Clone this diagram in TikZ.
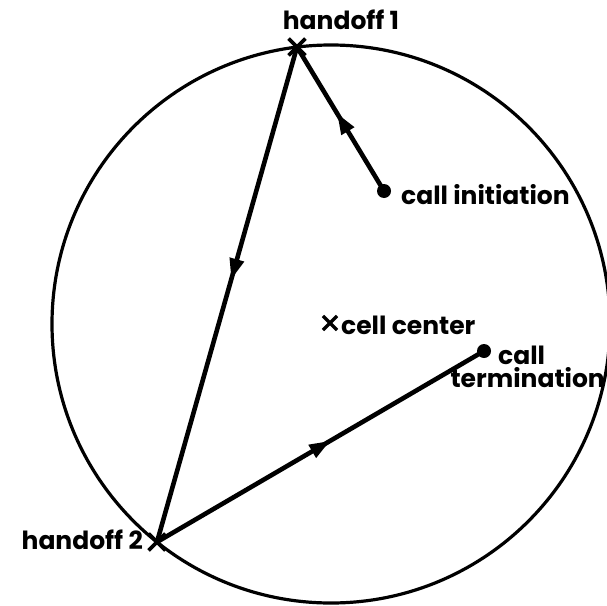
\documentclass[tikz,border=0pt]{standalone}
\usepackage{fontspec}
\setmainfont{Poppins}
\usetikzlibrary{shapes.misc,decorations.markings,arrows.meta}
\tikzset{
  rim/.style={line width=3.2pt},
  route/.style={line width=4.6pt},
  xmark/.style={cross out,draw,line width=3.8pt,minimum size=13pt,inner sep=0pt},
  spot/.style={circle,fill,minimum size=14pt,inner sep=0pt},
  lbl/.style={font=\fontsize{25}{27}\selectfont\bfseries,inner sep=0pt},
  midarrow/.style={postaction={decorate},decoration={markings,
     mark=at position #1 with {\arrow{Triangle[length=21pt,width=14pt]}}}}
}
\begin{document}
\begin{tikzpicture}[x=1pt,y=-1pt]
\useasboundingbox (0,0) rectangle (607,605);
\clip (0,0) rectangle (607,605);
\draw[rim] (331,324) circle[radius=279];
\node[xmark] (h1) at (297,47) {};
\node[xmark] (h2) at (157,542) {};
\node[xmark,minimum size=11pt,line width=3.2pt] (cc) at (330,323) {};
\node[spot] (ci) at (384,191) {};
\node[spot] (ct) at (484,351) {};
\draw[route,midarrow=0.54] (ci.center) -- (h1.center);
\draw[route,midarrow=0.47] (h1.center) -- (h2.center);
\draw[route,midarrow=0.53] (h2.center) -- (ct.center);
\node[lbl] (t1) at (341,20) {handoff 1};
\node[lbl,anchor=east] (t2) at (143,540) {handoff 2};
\node[lbl,anchor=west] (t3) at (401,195) {call initiation};
\node[lbl,anchor=west] (t4) at (341,325) {cell center};
\node[lbl,anchor=west] (t5) at (498,355) {call};
\node[lbl,anchor=east] (t6) at (605,378) {termination};
\end{tikzpicture}
\end{document}
